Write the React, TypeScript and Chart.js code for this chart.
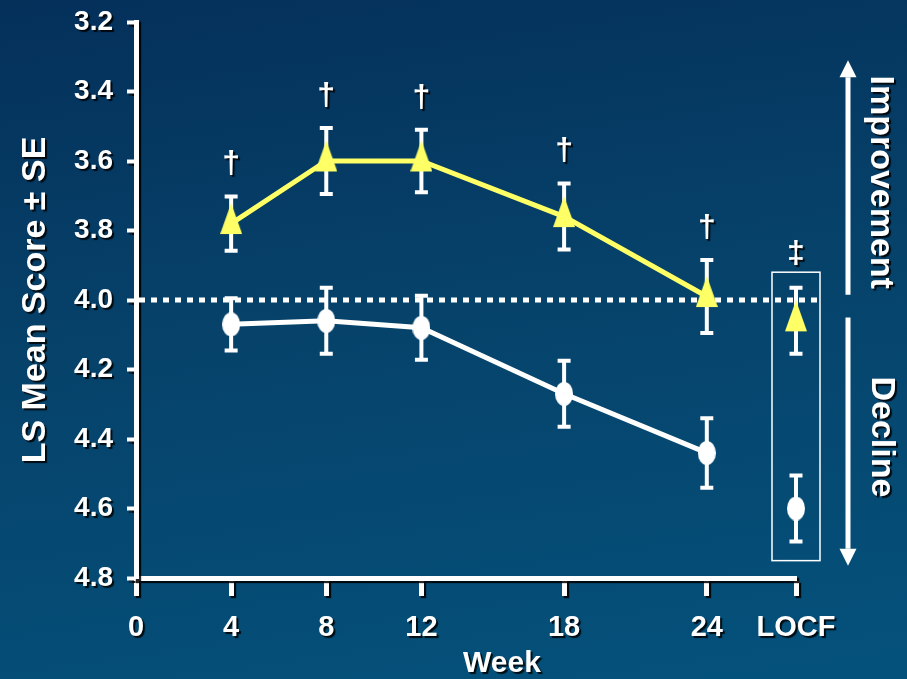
import React, { useEffect, useRef } from "react";
import { Chart, registerables } from "chart.js";

Chart.register(...registerables);

// Study visits (weeks) and the position of the LOCF column on the week axis
const weeks = [4, 8, 12, 18, 24];
const locfWeek = 27.75;
const xTickValues = [0, 4, 8, 12, 18, 24, locfWeek];
const xTickLabels = ["0", "4", "8", "12", "18", "24", "LOCF"];

// LS mean score and standard error per visit
const activeMean = [3.78, 3.6, 3.6, 3.76, 3.99];
const activeSE = [0.078, 0.095, 0.09, 0.095, 0.105];
const placeboMean = [4.07, 4.06, 4.08, 4.27, 4.44];
const placeboSE = [0.075, 0.095, 0.092, 0.095, 0.1];

// Last observation carried forward
const activeLocfMean = 4.06;
const activeLocfSE = 0.095;
const placeboLocfMean = 4.6;
const placeboLocfSE = 0.095;

// Significance marks above the active-group points
const activeMarks = ["†", "†", "†", "†", "†"];
const locfMark = "‡";

const baselineScore = 4.0;

const YELLOW = "#FFFF66";
const WHITE = "#FFFFFF";
const FONT = '"Liberation Sans", Arial, Helvetica, sans-serif';

function triangleMarker(): HTMLCanvasElement {
  // tall triangle; canvas padded below so the centroid sits at the image centre
  const w = 22;
  const h = 31;
  const c = document.createElement("canvas");
  c.width = w;
  c.height = Math.round((h * 4) / 3);
  const ctx = c.getContext("2d")!;
  ctx.fillStyle = YELLOW;
  ctx.beginPath();
  ctx.moveTo(w / 2, 0);
  ctx.lineTo(w, h);
  ctx.lineTo(0, h);
  ctx.closePath();
  ctx.fill();
  return c;
}

function ovalMarker(): HTMLCanvasElement {
  const w = 18;
  const h = 24;
  const c = document.createElement("canvas");
  c.width = w;
  c.height = h;
  const ctx = c.getContext("2d")!;
  ctx.fillStyle = WHITE;
  ctx.beginPath();
  ctx.ellipse(w / 2, h / 2, w / 2, h / 2, 0, 0, Math.PI * 2);
  ctx.fill();
  return c;
}

function setShadow(ctx: CanvasRenderingContext2D) {
  ctx.shadowColor = "rgba(0,0,0,0.85)";
  ctx.shadowOffsetX = 2;
  ctx.shadowOffsetY = 2;
  ctx.shadowBlur = 1;
}

function clearShadow(ctx: CanvasRenderingContext2D) {
  ctx.shadowColor = "rgba(0,0,0,0)";
  ctx.shadowOffsetX = 0;
  ctx.shadowOffsetY = 0;
  ctx.shadowBlur = 0;
}

const decorations = {
  id: "decorations",
  beforeDraw(chart: any) {
    // axis labels and title get a dark drop shadow
    setShadow(chart.ctx);
  },
  beforeDatasetsDraw(chart: any) {
    const { ctx, chartArea, scales } = chart;
    const x = scales.x;
    const y = scales.y;
    clearShadow(ctx);

    // dotted reference line at baseline score
    ctx.save();
    ctx.strokeStyle = WHITE;
    ctx.lineWidth = 5;
    ctx.setLineDash([6, 6]);
    const yb = y.getPixelForValue(baselineScore);
    ctx.beginPath();
    ctx.moveTo(chartArea.left + 3, yb);
    ctx.lineTo(chartArea.right + 26, yb);
    ctx.stroke();
    ctx.restore();

    // error bars (mean ± SE)
    const drawBar = (xv: number, mean: number, se: number) => {
      const px = x.getPixelForValue(xv);
      const top = y.getPixelForValue(mean - se);
      const bot = y.getPixelForValue(mean + se);
      ctx.save();
      ctx.strokeStyle = WHITE;
      ctx.lineWidth = 4;
      ctx.beginPath();
      ctx.moveTo(px, top);
      ctx.lineTo(px, bot);
      ctx.moveTo(px - 6.5, top);
      ctx.lineTo(px + 6.5, top);
      ctx.moveTo(px - 6.5, bot);
      ctx.lineTo(px + 6.5, bot);
      ctx.stroke();
      ctx.restore();
    };
    weeks.forEach((w, i) => {
      drawBar(w, activeMean[i], activeSE[i]);
      drawBar(w, placeboMean[i], placeboSE[i]);
    });
    drawBar(locfWeek, activeLocfMean, activeLocfSE);
    drawBar(locfWeek, placeboLocfMean, placeboLocfSE);
  },
  afterDatasetsDraw(chart: any) {
    const { ctx, chartArea, scales } = chart;
    const x = scales.x;
    const y = scales.y;
    clearShadow(ctx);

    // frame around the LOCF column
    const lx = x.getPixelForValue(locfWeek);
    ctx.save();
    ctx.strokeStyle = WHITE;
    ctx.lineWidth = 1.5;
    const bTop = y.getPixelForValue(3.92);
    const bBot = y.getPixelForValue(4.75);
    ctx.strokeRect(lx - 24, bTop, 48, bBot - bTop);
    ctx.restore();

    // direction arrows on the right
    const ax = chartArea.right + 52;
    const arrow = (fromV: number, toV: number) => {
      const y0 = y.getPixelForValue(fromV);
      const y1 = y.getPixelForValue(toV);
      const dir = y1 < y0 ? -1 : 1;
      const headH = 17;
      ctx.save();
      ctx.strokeStyle = WHITE;
      ctx.fillStyle = WHITE;
      ctx.lineWidth = 5;
      ctx.beginPath();
      ctx.moveTo(ax, y0);
      ctx.lineTo(ax, y1 - dir * headH);
      ctx.stroke();
      ctx.beginPath();
      ctx.moveTo(ax, y1);
      ctx.lineTo(ax - 8.5, y1 - dir * headH);
      ctx.lineTo(ax + 8.5, y1 - dir * headH);
      ctx.closePath();
      ctx.fill();
      ctx.restore();
    };
    arrow(3.985, 3.31);
    arrow(4.05, 4.765);

    ctx.save();
    setShadow(ctx);
    ctx.fillStyle = WHITE;
    ctx.textAlign = "center";
    ctx.textBaseline = "middle";

    // significance marks
    ctx.font = `bold 32px ${FONT}`;
    weeks.forEach((w, i) => {
      const top = y.getPixelForValue(activeMean[i] - activeSE[i]);
      ctx.fillText(activeMarks[i], x.getPixelForValue(w), top - 32);
    });
    const locfTop = y.getPixelForValue(activeLocfMean - activeLocfSE);
    ctx.fillText(locfMark, lx, locfTop - 34);

    // x-axis title
    ctx.font = `bold 30px ${FONT}`;
    ctx.fillText("Week", (chartArea.left + chartArea.right) / 2 + 36, chartArea.bottom + 86);

    // rotated side labels
    ctx.font = `bold 34px ${FONT}`;
    const side = (text: string, cx: number, cy: number) => {
      ctx.save();
      ctx.translate(cx, cy);
      ctx.rotate(Math.PI / 2);
      ctx.fillText(text, 0, 0);
      ctx.restore();
    };
    side("Improvement", chartArea.right + 84, y.getPixelForValue(3.661));
    side("Decline", chartArea.right + 85, y.getPixelForValue(4.394));
    ctx.restore();
  },
};

export default function App() {
  const canvasRef = useRef<HTMLCanvasElement | null>(null);

  useEffect(() => {
    if (!canvasRef.current) return;
    const tri = triangleMarker();
    const oval = ovalMarker();

    const chart = new Chart(canvasRef.current, {
      type: "line",
      data: {
        datasets: [
          {
            label: "Active",
            data: weeks.map((w, i) => ({ x: w, y: activeMean[i] })),
            borderColor: YELLOW,
            backgroundColor: YELLOW,
            borderWidth: 5,
            pointStyle: tri as any,
            pointRadius: 10,
            tension: 0,
            clip: false,
          },
          {
            label: "Placebo",
            data: weeks.map((w, i) => ({ x: w, y: placeboMean[i] })),
            borderColor: WHITE,
            backgroundColor: WHITE,
            borderWidth: 5,
            pointStyle: oval as any,
            pointRadius: 10,
            tension: 0,
            clip: false,
          },
          {
            label: "Active LOCF",
            data: [{ x: locfWeek, y: activeLocfMean }],
            showLine: false,
            pointStyle: tri as any,
            pointRadius: 10,
            clip: false,
          },
          {
            label: "Placebo LOCF",
            data: [{ x: locfWeek, y: placeboLocfMean }],
            showLine: false,
            pointStyle: oval as any,
            pointRadius: 10,
            clip: false,
          },
        ],
      },
      options: {
        animation: false,
        responsive: true,
        maintainAspectRatio: false,
        layout: { padding: { top: 22, right: 111, left: 0, bottom: 0 } },
        plugins: {
          legend: { display: false },
          tooltip: { enabled: false },
        },
        scales: {
          x: {
            type: "linear",
            min: 0,
            max: locfWeek,
            afterBuildTicks: (scale: any) => {
              scale.ticks = xTickValues.map((v) => ({ value: v }));
            },
            afterFit: (scale: any) => {
              scale.height = 101;
            },
            ticks: {
              autoSkip: false,
              maxRotation: 0,
              padding: 15,
              color: WHITE,
              font: { family: FONT, size: 29, weight: "bold" },
              callback: (v: any) => xTickLabels[xTickValues.indexOf(Number(v))] ?? "",
            },
            grid: {
              display: true,
              drawOnChartArea: false,
              drawTicks: true,
              tickLength: 18,
              tickWidth: 5,
              tickColor: WHITE,
            },
            border: { display: true, color: WHITE, width: 5 },
          },
          y: {
            type: "linear",
            reverse: true,
            min: 3.2,
            max: 4.8,
            afterFit: (scale: any) => {
              scale.width = 136;
              scale.paddingTop = 0;
              scale.paddingBottom = 0;
            },
            ticks: {
              stepSize: 0.2,
              padding: 14,
              color: WHITE,
              font: { family: FONT, size: 28, weight: "bold" },
              callback: (v: any) => Number(v).toFixed(1),
            },
            grid: {
              display: true,
              drawOnChartArea: false,
              drawTicks: true,
              tickLength: 9,
              tickWidth: 4,
              tickColor: WHITE,
            },
            border: { display: true, color: WHITE, width: 5 },
            title: {
              display: true,
              text: "LS Mean Score ± SE",
              color: WHITE,
              font: { family: FONT, size: 34, weight: "bold", lineHeight: 1 },
              padding: { top: 19, bottom: 0 },
            },
          },
        },
      } as any,
      plugins: [decorations],
    });

    return () => chart.destroy();
  }, []);

  return (
    <div
      style={{
        position: "fixed",
        left: 0,
        top: 0,
        width: 907,
        height: 679,
        background: "linear-gradient(172deg, #04305a 0%, #06426a 45%, #04527c 100%)",
      }}
    >
      <canvas ref={canvasRef} />
    </div>
  );
}
